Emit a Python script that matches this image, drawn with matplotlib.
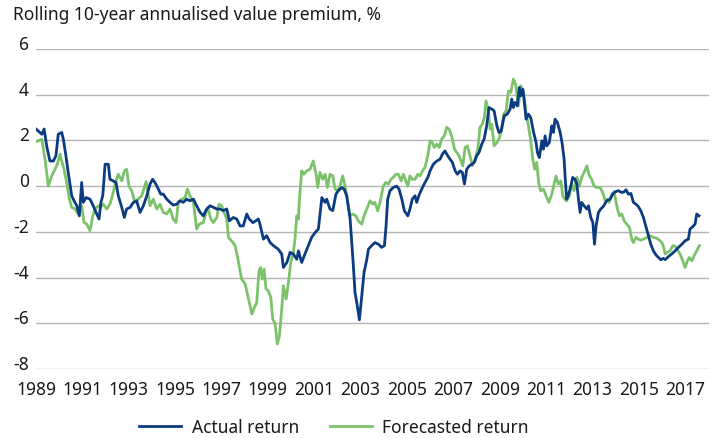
import matplotlib
matplotlib.use("Agg")
import matplotlib.pyplot as plt

plt.rcParams['font.family'] = ['Noto Sans', 'DejaVu Sans']

# decimal years, with rolling 10y value premium (%)
actual_years = [
    1989.00, 1989.25, 1989.35, 1989.46, 1989.60, 1989.75, 1989.86, 1989.96, 1990.11, 1990.18,
    1990.29, 1990.39, 1990.54, 1990.64, 1990.76, 1990.87, 1990.97, 1991.04, 1991.16, 1991.33,
    1991.47, 1991.62, 1991.72, 1991.80, 1991.88, 1991.98, 1992.12, 1992.19, 1992.33, 1992.45,
    1992.55, 1992.70, 1992.81, 1992.91, 1993.06, 1993.20, 1993.34, 1993.49, 1993.63, 1993.78,
    1993.92, 1994.03, 1994.13, 1994.28, 1994.38, 1994.49, 1994.64, 1994.78, 1994.92, 1995.07,
    1995.21, 1995.35, 1995.50, 1995.64, 1995.79, 1995.93, 1996.08, 1996.22, 1996.36, 1996.51,
    1996.65, 1996.80, 1996.94, 1997.08, 1997.23, 1997.34, 1997.51, 1997.66, 1997.80, 1997.94,
    1998.09, 1998.20, 1998.36, 1998.59, 1998.66, 1998.81, 1998.95, 1999.10, 1999.24, 1999.45,
    1999.60, 1999.67, 1999.82, 1999.96, 2000.10, 2000.25, 2000.32, 2000.46, 2000.60, 2000.75,
    2000.89, 2001.04, 2001.18, 2001.33, 2001.47, 2001.54, 2001.68, 2001.80, 2001.94, 2002.04,
    2002.19, 2002.29, 2002.40, 2002.55, 2002.69, 2002.76, 2002.86, 2002.95, 2003.05, 2003.15,
    2003.27, 2003.34, 2003.48, 2003.62, 2003.77, 2003.91, 2004.03, 2004.10, 2004.17, 2004.27,
    2004.41, 2004.56, 2004.66, 2004.78, 2004.89, 2005.04, 2005.13, 2005.23, 2005.35, 2005.42,
    2005.54, 2005.67, 2005.78, 2005.90, 2006.00, 2006.14, 2006.29, 2006.43, 2006.53, 2006.64,
    2006.76, 2006.86, 2006.96, 2007.08, 2007.18, 2007.29, 2007.39, 2007.48, 2007.58, 2007.69,
    2007.80, 2007.91, 2008.01, 2008.11, 2008.23, 2008.33, 2008.44, 2008.54, 2008.66, 2008.76,
    2008.88, 2008.97, 2009.06, 2009.20, 2009.33, 2009.45, 2009.52, 2009.59, 2009.66, 2009.76,
    2009.85, 2009.91, 2010.00, 2010.05, 2010.14, 2010.24, 2010.34, 2010.45, 2010.57, 2010.63,
    2010.71, 2010.82, 2010.89, 2010.96, 2011.03, 2011.14, 2011.25, 2011.32, 2011.39, 2011.49,
    2011.61, 2011.70, 2011.78, 2011.83, 2011.89, 2011.96, 2012.07, 2012.15, 2012.25, 2012.33,
    2012.40, 2012.47, 2012.54, 2012.64, 2012.76, 2012.83, 2012.93, 2013.02, 2013.09, 2013.16,
    2013.26, 2013.36, 2013.47, 2013.62, 2013.76, 2013.88, 2013.98, 2014.12, 2014.27, 2014.37,
    2014.45, 2014.55, 2014.66, 2014.77, 2014.88, 2014.98, 2015.09, 2015.20, 2015.32, 2015.42,
    2015.52, 2015.63, 2015.75, 2015.85, 2015.95, 2016.06, 2016.14, 2016.28, 2016.42, 2016.57,
    2016.71, 2016.86, 2017.00, 2017.14, 2017.21, 2017.33, 2017.43, 2017.50, 2017.60,
]
actual_vals = [
    2.50, 2.27, 2.50, 1.76, 1.10, 1.10, 1.33, 2.27, 2.35, 2.05,
    1.33, 0.60, -0.42, -0.64, -0.86, -1.30, 0.16, -0.71, -0.50, -0.57,
    -0.86, -1.22, -1.44, -0.71, -0.42, 0.96, 0.96, 0.30, 0.23, 0.16,
    -0.42, -0.93, -1.37, -1.00, -0.93, -0.71, -0.64, -1.15, -0.86, -0.42,
    0.09, 0.30, 0.16, -0.13, -0.35, -0.35, -0.57, -0.71, -0.83, -0.79,
    -0.64, -0.71, -0.57, -0.64, -0.57, -0.86, -1.15, -1.30, -1.00, -0.86,
    -0.93, -1.00, -1.00, -1.07, -1.00, -1.52, -1.37, -1.44, -1.74, -1.74,
    -1.22, -1.44, -1.60, -1.44, -1.66, -2.32, -2.17, -2.47, -2.60, -2.76,
    -2.97, -3.56, -3.34, -2.90, -2.97, -3.20, -2.83, -3.34, -2.97, -2.60,
    -2.24, -2.03, -1.88, -0.50, -0.71, -0.57, -1.00, -1.07, -0.35, -0.20,
    -0.06, -0.13, -0.42, -1.44, -3.49, -4.65, -5.24, -5.85, -4.80, -3.78,
    -3.20, -2.76, -2.60, -2.47, -2.54, -2.68, -2.60, -1.74, -0.57, -0.20,
    -0.06, 0.00, -0.13, -0.57, -1.08, -1.30, -1.00, -0.57, -0.42, -0.71,
    -0.35, -0.06, 0.16, 0.38, 0.67, 0.96, 1.10, 1.18, 1.40, 1.54,
    1.33, 1.18, 1.04, 0.67, 0.52, 0.67, 0.60, 0.09, 0.74, 0.89,
    0.96, 1.04, 1.33, 1.47, 1.84, 2.06, 2.64, 3.44, 3.37, 3.30,
    2.64, 2.35, 2.40, 3.08, 3.15, 3.37, 3.81, 3.44, 3.66, 3.51,
    4.32, 3.95, 4.24, 3.81, 2.93, 3.15, 3.00, 2.42, 1.91, 1.47,
    1.25, 1.98, 1.62, 2.20, 1.76, 1.91, 2.64, 2.35, 2.93, 2.79,
    2.35, 1.84, 1.18, 0.30, -0.57, -0.42, 0.00, 0.38, 0.30, 0.09,
    -0.57, -1.15, -0.71, -0.86, -1.00, -0.86, -1.37, -1.59, -2.54, -1.74,
    -1.15, -1.00, -0.89, -0.64, -0.57, -0.35, -0.25, -0.20, -0.28, -0.25,
    -0.16, -0.35, -0.32, -0.71, -0.79, -0.89, -1.08, -1.37, -1.81, -2.17,
    -2.54, -2.83, -3.02, -3.12, -3.22, -3.16, -3.22, -3.08, -2.97, -2.83,
    -2.68, -2.54, -2.39, -2.32, -1.88, -1.77, -1.66, -1.22, -1.30,
]

forecast_years = [
    1989.00, 1989.25, 1989.39, 1989.53, 1989.68, 1989.82, 1989.92, 1990.04, 1990.11, 1990.21,
    1990.32, 1990.44, 1990.54, 1990.68, 1990.82, 1990.97, 1991.07, 1991.19, 1991.33, 1991.45,
    1991.55, 1991.69, 1991.79, 1991.90, 1992.05, 1992.19, 1992.33, 1992.45, 1992.55, 1992.70,
    1992.81, 1992.91, 1993.01, 1993.13, 1993.27, 1993.41, 1993.56, 1993.75, 1993.92, 1994.06,
    1994.21, 1994.35, 1994.49, 1994.64, 1994.78, 1994.92, 1995.04, 1995.14, 1995.29, 1995.43,
    1995.53, 1995.64, 1995.79, 1995.93, 1996.04, 1996.22, 1996.33, 1996.43, 1996.54, 1996.65,
    1996.80, 1996.89, 1997.01, 1997.11, 1997.23, 1997.30, 1997.44, 1997.59, 1997.73, 1997.87,
    1998.02, 1998.16, 1998.31, 1998.42, 1998.52, 1998.62, 1998.69, 1998.76, 1998.84, 1998.92,
    1999.02, 1999.13, 1999.21, 1999.31, 1999.41, 1999.50, 1999.60, 1999.67, 1999.79, 1999.88,
    1999.99, 2000.10, 2000.17, 2000.25, 2000.32, 2000.36, 2000.46, 2000.56, 2000.68, 2000.82,
    2000.96, 2001.08, 2001.15, 2001.25, 2001.37, 2001.47, 2001.57, 2001.68, 2001.80, 2001.90,
    2002.00, 2002.11, 2002.23, 2002.33, 2002.43, 2002.55, 2002.66, 2002.80, 2002.90, 2003.05,
    2003.15, 2003.27, 2003.41, 2003.53, 2003.62, 2003.74, 2003.84, 2003.98, 2004.09, 2004.20,
    2004.31, 2004.41, 2004.52, 2004.63, 2004.75, 2004.85, 2004.95, 2005.04, 2005.13, 2005.23,
    2005.35, 2005.47, 2005.57, 2005.67, 2005.78, 2005.90, 2006.00, 2006.10, 2006.18, 2006.29,
    2006.39, 2006.50, 2006.61, 2006.72, 2006.82, 2006.93, 2007.05, 2007.15, 2007.25, 2007.33,
    2007.41, 2007.51, 2007.61, 2007.72, 2007.82, 2007.94, 2008.06, 2008.15, 2008.25, 2008.34,
    2008.41, 2008.51, 2008.59, 2008.66, 2008.76, 2008.88, 2008.97, 2009.09, 2009.17, 2009.28,
    2009.38, 2009.48, 2009.59, 2009.69, 2009.81, 2009.91, 2010.02, 2010.14, 2010.24, 2010.34,
    2010.43, 2010.51, 2010.60, 2010.69, 2010.77, 2010.89, 2011.00, 2011.12, 2011.25, 2011.35,
    2011.43, 2011.53, 2011.64, 2011.72, 2011.81, 2011.89, 2012.01, 2012.11, 2012.21, 2012.33,
    2012.44, 2012.54, 2012.64, 2012.76, 2012.87, 2012.97, 2013.07, 2013.19, 2013.33, 2013.45,
    2013.55, 2013.65, 2013.73, 2013.84, 2013.94, 2014.05, 2014.16, 2014.27, 2014.37, 2014.48,
    2014.60, 2014.70, 2014.77, 2014.88, 2014.98, 2015.09, 2015.20, 2015.35, 2015.49, 2015.63,
    2015.78, 2015.92, 2016.04, 2016.14, 2016.23, 2016.35, 2016.47, 2016.57, 2016.67, 2016.78,
    2016.90, 2017.00, 2017.10, 2017.18, 2017.29, 2017.40, 2017.50, 2017.62,
]
forecast_vals = [
    1.94, 2.05, 1.18, 0.00, 0.45, 0.74, 0.96, 1.40, 1.10, 0.74,
    0.16, -0.57, -0.93, -1.00, -1.22, -0.86, -1.59, -1.66, -1.95, -1.30,
    -1.00, -0.86, -0.90, -0.79, -1.00, -0.79, -0.28, 0.23, 0.52, 0.23,
    0.67, 0.74, 0.00, -0.21, -0.71, -0.57, -0.42, 0.20, -0.86, -0.57,
    -1.00, -0.79, -1.15, -1.22, -1.00, -1.44, -1.59, -0.71, -0.57, -0.50,
    -0.13, -0.42, -0.71, -1.88, -1.66, -1.59, -1.15, -1.00, -1.44, -1.59,
    -1.37, -0.79, -0.86, -1.15, -1.44, -2.24, -2.40, -2.60, -3.30, -4.07,
    -4.28, -4.90, -5.60, -5.30, -5.10, -3.70, -3.56, -4.07, -3.63, -4.50,
    -4.58, -4.87, -5.82, -6.00, -6.91, -6.55, -5.38, -4.36, -4.94, -4.28,
    -3.34, -2.90, -2.32, -1.30, -1.44, -0.64, 0.67, 0.52, 0.67, 0.74,
    1.10, 0.52, -0.06, 0.60, 0.30, 0.52, -0.06, 0.52, 0.45, -0.13,
    -0.20, 0.00, 0.45, 0.00, -0.57, -1.30, -1.22, -1.30, -1.52, -1.66,
    -1.30, -1.00, -0.64, -0.79, -0.71, -1.08, -0.71, 0.00, 0.16, 0.09,
    0.30, 0.38, 0.52, 0.52, 0.23, 0.52, 0.23, 0.00, 0.45, 0.30,
    0.30, 0.52, 0.45, 0.67, 0.82, 1.33, 1.98, 1.90, 1.69, 1.84,
    1.69, 2.06, 2.20, 2.57, 2.49, 2.20, 1.62, 1.47, 1.33, 1.10,
    0.89, 1.69, 1.76, 1.33, 0.89, 1.18, 1.62, 2.57, 2.71, 3.00,
    3.73, 3.30, 2.49, 2.71, 1.76, 1.90, 2.06, 2.49, 3.15, 3.30,
    4.17, 4.10, 4.68, 4.46, 3.51, 4.39, 4.17, 3.22, 2.64, 1.98,
    1.18, 0.74, 1.04, 0.09, -0.20, -0.13, -0.42, -0.71, -0.35, 0.09,
    0.45, 0.09, 0.23, -0.42, -0.57, -0.64, -0.42, 0.09, -0.20, 0.38,
    0.00, 0.38, 0.60, 0.89, 0.45, 0.30, 0.00, -0.06, -0.06, -0.28,
    -0.64, -0.57, -0.71, -0.35, -0.25, -0.86, -1.30, -1.22, -1.52, -1.66,
    -1.81, -2.32, -2.47, -2.24, -2.32, -2.36, -2.32, -2.24, -2.17, -2.24,
    -2.28, -2.39, -2.54, -2.97, -2.90, -2.83, -2.60, -2.63, -2.78, -2.97,
    -3.27, -3.56, -3.27, -3.12, -3.27, -3.02, -2.83, -2.60,
]

y_ticks = [6, 4, 2, 0, -2, -4, -6, -8]
y_labels = ["6", "4", "2", "0", "-2", "-4", "-6", "-8"]
x_ticks = list(range(1989, 2018, 2))

fig = plt.figure(figsize=(7.16, 4.39), dpi=100)
ax = fig.add_axes([36 / 716, 1 - 370 / 439, (709 - 36) / 716, 320 / 439])

ax.plot(actual_years, actual_vals, color="#0b3b80", lw=2.0, label="Actual return", zorder=3)
ax.plot(forecast_years, forecast_vals, color="#7cc26b", lw=2.0, label="Forecasted return", zorder=2)

ax.set_xlim(1989.0, 2018.03)
ax.set_ylim(-8, 6)
ax.set_yticks(y_ticks)
ax.set_yticklabels(y_labels, fontsize=12.5, color="#1a1a1a")
for lab in ax.get_yticklabels():
    lab.set_verticalalignment("baseline")
ax.set_xticks(x_ticks)
ax.set_xticklabels([str(y) for y in x_ticks], fontsize=12.5, color="#1a1a1a")
ax.tick_params(axis="both", length=0)
ax.tick_params(axis="y", pad=5)
ax.tick_params(axis="x", pad=8)
ax.grid(axis="y", color="#b4b4b4", lw=1.0)
ax.set_axisbelow(True)
for s in ax.spines.values():
    s.set_visible(False)

fig.text(13 / 716, 1 - 15 / 439, "Rolling 10-year annualised value premium, %",
         fontsize=12.5, color="#1a1a1a", va="center", ha="left")

fig.legend(loc="center", bbox_to_anchor=(334 / 716, 1 - 428 / 439), ncol=2,
           frameon=False, fontsize=12.5, handlelength=2.4, handletextpad=0.6,
           columnspacing=1.8, labelcolor="#1a1a1a")

fig.savefig("out.png", dpi=100)
